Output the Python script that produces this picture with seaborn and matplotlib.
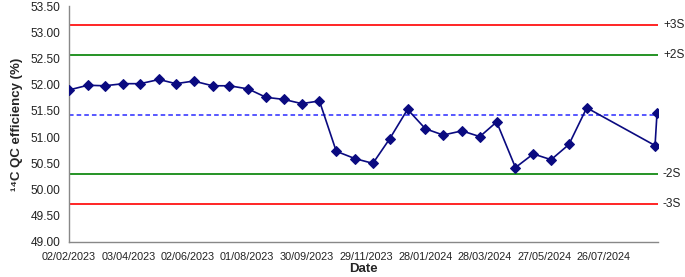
import numpy as np
import pandas as pd
import matplotlib
matplotlib.use("Agg")
import matplotlib.pyplot as plt
import matplotlib.dates as mdates
import seaborn as sns

# QC measurement dates and 14C efficiency values
dates = ['2023-02-02', '2023-02-21', '2023-03-10', '2023-03-29', '2023-04-15',
         '2023-05-04', '2023-05-21', '2023-06-08', '2023-06-27', '2023-07-14',
         '2023-08-02', '2023-08-20', '2023-09-07', '2023-09-25', '2023-10-13',
         '2023-10-30', '2023-11-18', '2023-12-06', '2023-12-23', '2024-01-10',
         '2024-01-28', '2024-02-15', '2024-03-05', '2024-03-23', '2024-04-09',
         '2024-04-28', '2024-05-16', '2024-06-03', '2024-06-21', '2024-07-09',
         '2024-09-16', '2024-09-18']
efficiency = [51.90, 51.99, 51.98, 52.02, 52.02, 52.10, 52.02, 52.07, 51.98, 51.98,
              51.92, 51.76, 51.72, 51.64, 51.69, 50.73, 50.59, 50.50, 50.97, 51.53,
              51.16, 51.04, 51.12, 51.01, 51.29, 50.42, 50.68, 50.57, 50.86, 51.56,
              50.84, 51.46]

# control limits
mean_val = 51.43
limit_labels = ['+3S', '+2S', '-2S', '-3S']
limit_values = [53.14, 52.57, 50.29, 49.72]
limit_colors = ['#ff0000', '#008000', '#008000', '#ff0000']

tick_dates = ['2023-02-02', '2023-04-03', '2023-06-02', '2023-08-01', '2023-09-30',
              '2023-11-29', '2024-01-28', '2024-03-28', '2024-05-27', '2024-07-26']

df = pd.DataFrame({'Date': pd.to_datetime(dates), 'Efficiency': efficiency})

sns.set_style("white")
plt.rcParams['font.family'] = ['Liberation Sans', 'DejaVu Sans']

fig = plt.figure(figsize=(6.85, 2.77), dpi=100)
ax = fig.add_axes([0.1007, 0.1264, 0.8599, 0.8516])

x0 = pd.Timestamp('2023-02-02')
x1 = pd.Timestamp('2024-09-19')

for lab, val, col in zip(limit_labels, limit_values, limit_colors):
    ax.plot([x0, x1], [val, val], color=col, lw=1.2, zorder=1)
    ax.text(x1 + pd.Timedelta(days=5), val, lab, fontsize=8.6, va='center', ha='left',
            color='#222222')
ax.plot([x0, x1], [mean_val, mean_val], color='#2a2aff', lw=1.1, ls=(0, (3, 2)), zorder=1)

sns.lineplot(data=df, x='Date', y='Efficiency', ax=ax, color='#0a0a80', lw=1.2,
             marker='D', markersize=5, markeredgecolor='#0a0a80', zorder=3)

ax.set_xlim(x0, x1)
ax.set_ylim(49.0, 53.5)
ax.set_yticks(np.arange(49.0, 53.51, 0.5))
ax.yaxis.set_major_formatter(matplotlib.ticker.FormatStrFormatter('%.2f'))
ax.set_xticks(pd.to_datetime(tick_dates))
ax.xaxis.set_major_formatter(mdates.DateFormatter('%d/%m/%Y'))

for s in ['top', 'right']:
    ax.spines[s].set_visible(False)
for s in ['left', 'bottom']:
    ax.spines[s].set_color('#888888')
    ax.spines[s].set_linewidth(1.0)
ax.tick_params(axis='both', direction='out', length=4, width=1, color='#888888',
               labelcolor='#222222', pad=2)
ax.tick_params(axis='y', labelsize=8.6)
ax.tick_params(axis='x', labelsize=7.8, pad=3)

ax.set_xlabel('Date', fontsize=9.5, fontweight='bold', labelpad=1)
ax.set_ylabel('¹⁴C QC efficiency (%)', fontsize=9.5, fontweight='bold', labelpad=6)

fig.savefig('out.png', dpi=100)
